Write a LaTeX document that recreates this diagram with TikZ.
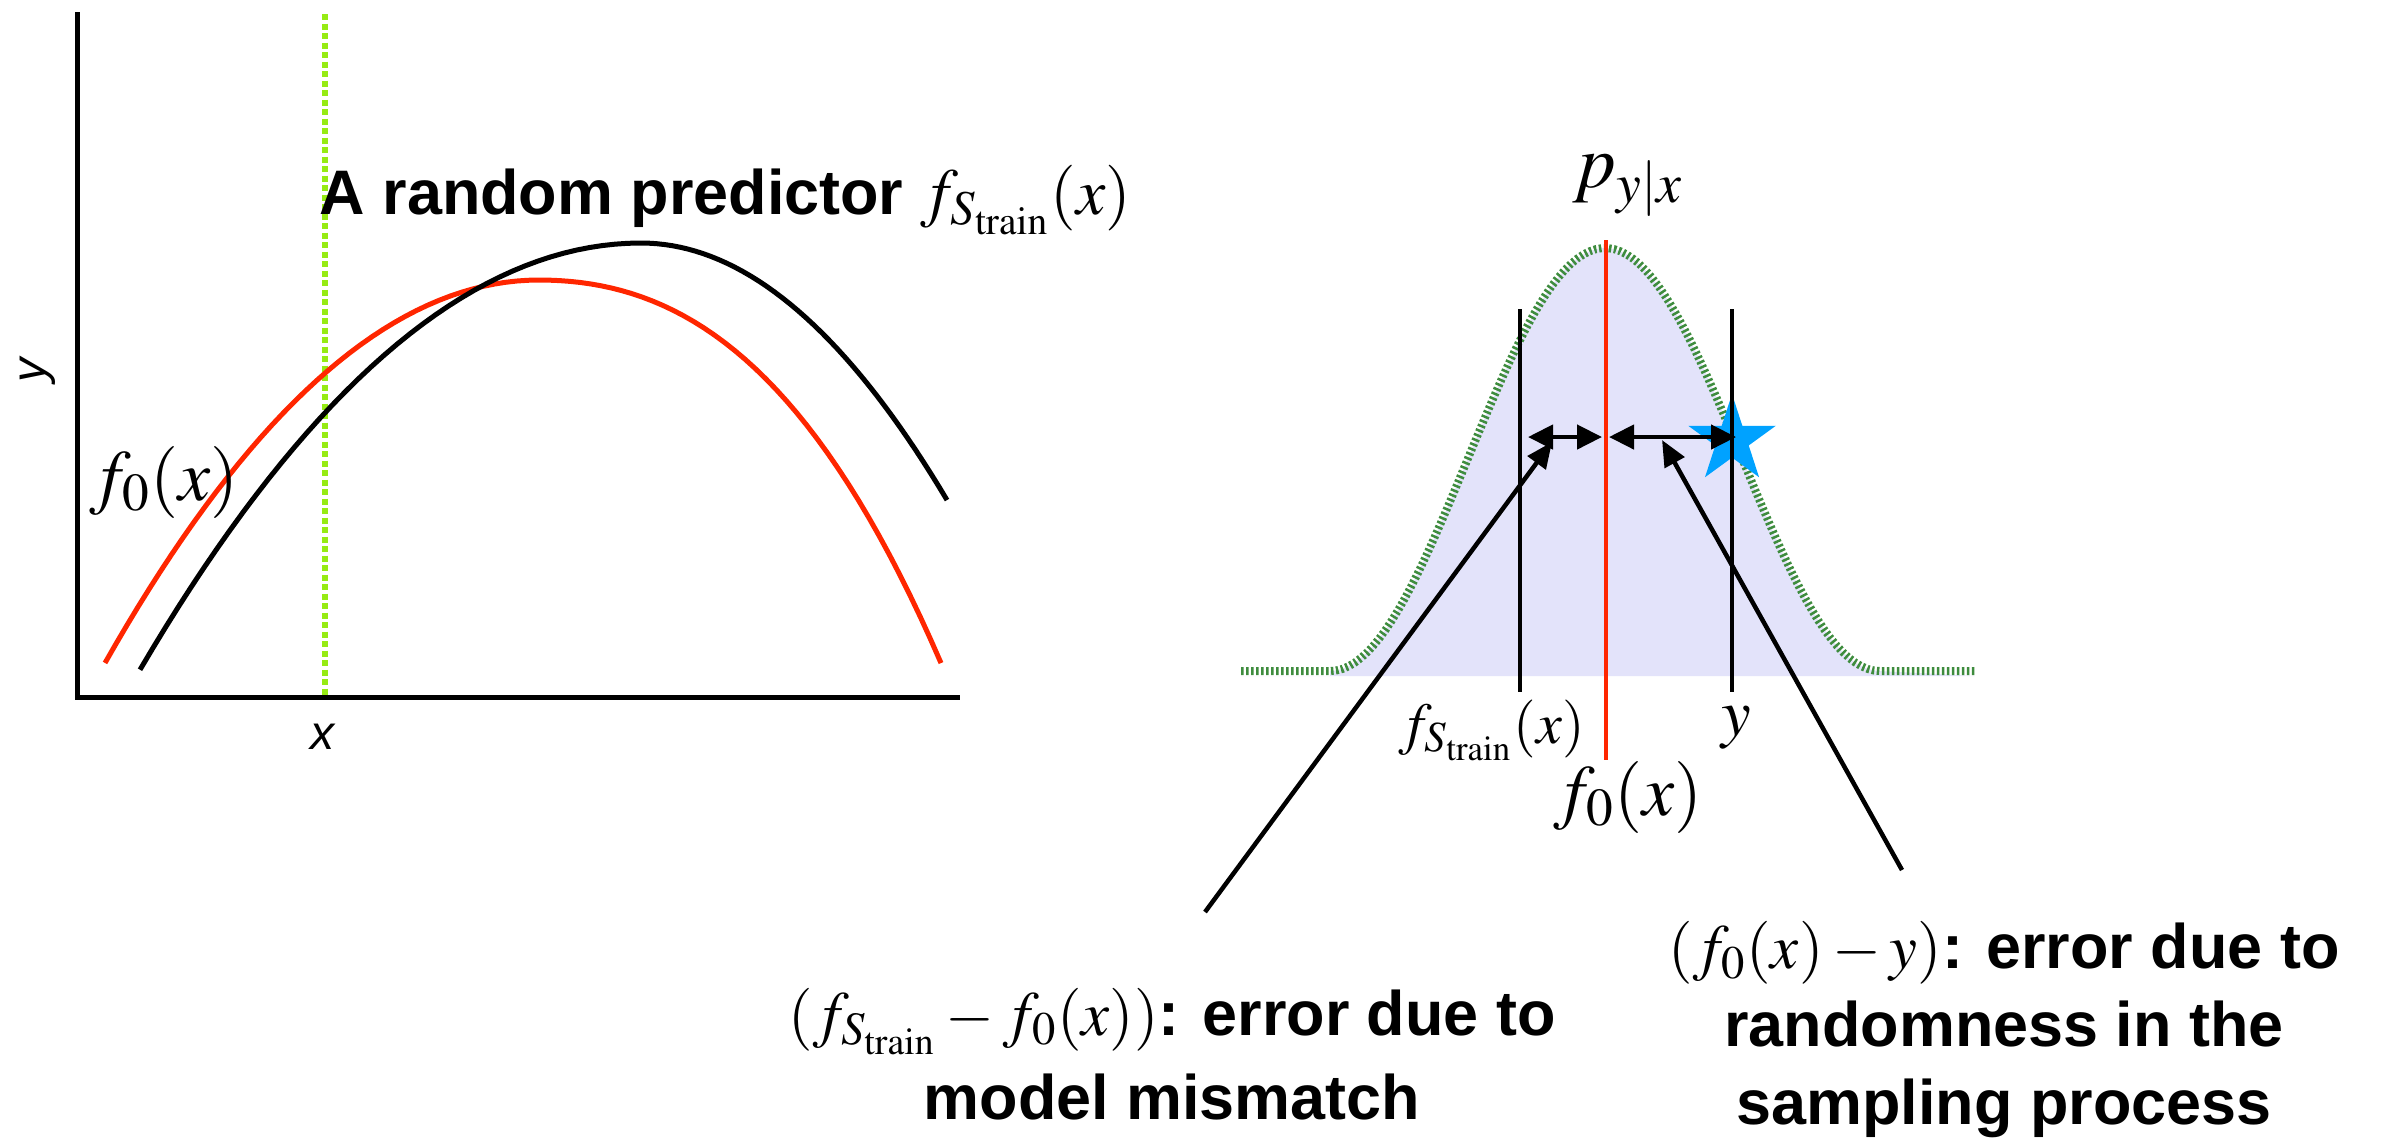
\documentclass[tikz,border=0pt]{standalone}
\usepackage{mathptmx}
\usepackage[no-math]{fontspec}
\newfontfamily\helv{Liberation Sans}
\usetikzlibrary{arrows.meta,shapes.geometric}

\definecolor{predred}{RGB}{255,38,0}
\definecolor{limegreen}{RGB}{150,235,20}
\definecolor{densgreen}{RGB}{62,140,62}
\definecolor{lavender}{RGB}{227,227,250}
\definecolor{starblue}{RGB}{0,162,255}

\begin{document}
\begin{tikzpicture}[
  x=0.1mm, y=-0.1mm,
  axis/.style={line width=0.5mm},
  curve/.style={line width=0.5mm},
  vline/.style={line width=0.45mm},
  dbl/.style={{Triangle[length=2.5mm,width=2.4mm]}-{Triangle[length=2.5mm,width=2.4mm]},line width=0.45mm},
  ptr/.style={-{Triangle[length=2.6mm,width=2.2mm]},line width=0.45mm},
  lbl/.style={inner sep=0pt,anchor=base west},
  mth/.style={lbl,font=\fontsize{20.5}{24}\selectfont},
  txt/.style={inner sep=0pt,align=center,font=\helv\bfseries\fontsize{17.9}{23.9}\selectfont}
]
\useasboundingbox (0,0) rectangle (2392,1138);

% left panel: axes, x marker and the two curves
\draw[axis] (77,12) -- (77,697) -- (960,697);
\draw[limegreen,line width=0.6mm,dash pattern=on 0.6mm off 0.35mm] (325,14) -- (325,697);
\draw[curve,predred]
  plot[domain=105:539,samples=40] (\x,{280+20.33*((\x-539)/100)*((\x-539)/100)})
  -- plot[domain=539:941,samples=40] (\x,{280+13.38*((\x-539)/100)*((\x-539)/100)+2.568*((\x-539)/100)*((\x-539)/100)*((\x-539)/100)});
\draw[curve]
  plot[domain=140:641,samples=40] (\x,{243+17.0*((\x-641)/100)*((\x-641)/100)})
  -- plot[domain=641:947,samples=40] (\x,{243+27.45*((\x-641)/100)*((\x-641)/100)});

\node[lbl,font=\helv\bfseries\fontsize{17.9}{20}\selectfont] (pred) at (319,214)
  {A random predictor \fontsize{18.7}{20}\selectfont$f_{S_{\mathrm{train}}}(x)$};
\node[mth] (fzero) at (89,500) {$f_0(x)$};
\node[inner sep=0pt,font=\helv\itshape\fontsize{13.7}{16}\selectfont] (xlab) at (323,737) {x};
\node[inner sep=0pt,rotate=90,font=\helv\itshape\fontsize{13.7}{16}\selectfont] (ylab) at (38,370) {y};

% right panel: conditional density
\fill[lavender] (1241,676) -- (1330,676)
  -- plot[domain=-275:275,samples=90] ({1605+\x},{671-211.5*(1+cos(\x/275*180))})
  -- (1975,676) -- cycle;
\draw[densgreen,line width=0.8mm,dash pattern=on 0.25mm off 0.25mm] (1241,671) -- (1330,671)
  -- plot[domain=-275:275,samples=90] ({1605+\x},{671-211.5*(1+cos(\x/275*180))})
  -- (1975,671);

\node[star,star points=5,star point ratio=2.62,fill=starblue,minimum size=9.2mm,inner sep=0pt] (sample) at (1732,440) {};

\draw[vline] (1520,309) -- (1520,692);
\draw[vline] (1732,309) -- (1732,692);
\draw[vline,predred] (1606,240) -- (1606,760);

\coordinate (fsmid) at (1520,437);
\coordinate (f0mid) at (1606,437);
\coordinate (ymid) at (1732,437);
\draw[dbl] ([xshift=0.8mm]fsmid) -- ([xshift=-0.4mm]f0mid);
\draw[dbl] ([xshift=0.3mm]f0mid) -- ([xshift=0.4mm]ymid);

\node[lbl,font=\fontsize{21.5}{24}\selectfont] (pyx) at (1572,187) {$p_{y|x}$};
\node[lbl,font=\fontsize{16.5}{20}\selectfont] (fsl) at (1398,743) {$f_{S_{\mathrm{train}}}(x)$};
\node[mth] (f0l) at (1553,815) {$f_0(x)$};
\node[lbl,font=\fontsize{19}{20}\selectfont] (yl) at (1721,735) {$y$};

% explanations
\node[txt] (mis) at (1172,1054) {$(f_{S_{\mathrm{train}}}-f_0(x))$: error due to\\model mismatch};
\node[txt,font=\helv\bfseries\fontsize{17.9}{22.2}\selectfont] (rnd) at (2004,1030)
  {$(f_0(x)-y)$: error due to\\randomness in the\\sampling process};

\coordinate (mistail) at (1205,912);
\coordinate (mistip) at (1552,442);
\coordinate (rndtail) at (1902,870);
\coordinate (rndtip) at (1662,440);
\draw[ptr] (mistail) -- (mistip);
\draw[ptr] (rndtail) -- (rndtip);
\end{tikzpicture}
\end{document}
